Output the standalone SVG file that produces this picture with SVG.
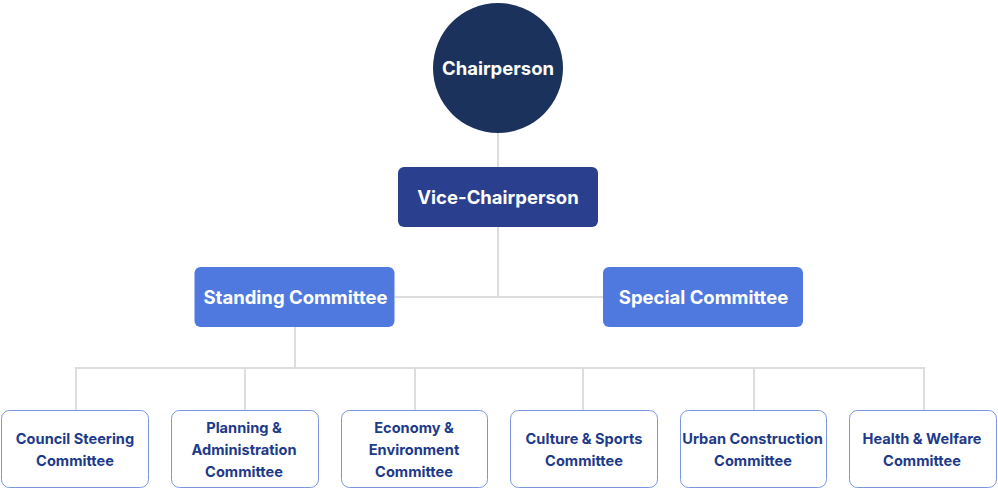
<svg xmlns="http://www.w3.org/2000/svg" width="998" height="488" viewBox="0 0 998 488">
<style>
.ln{stroke:#dddddd;stroke-width:2;fill:none}
.t{font-family:Inter,"Liberation Sans",sans-serif;font-weight:700;text-anchor:middle}
.w{fill:#ffffff;font-size:18.5px}
.leaf rect{fill:#ffffff;stroke:#7b96e0;stroke-width:1}
.leaf text{fill:#1e3a8a;font-size:14.6px}
</style>
<rect width="998" height="488" fill="#ffffff"/>
<g id="connectors">
<line class="ln" x1="498" y1="133" x2="498" y2="167"/>
<line class="ln" x1="498" y1="227" x2="498" y2="297"/>
<line class="ln" x1="395" y1="297" x2="603" y2="297"/>
<line class="ln" x1="295" y1="327" x2="295" y2="368"/>
<line class="ln" x1="75" y1="368" x2="924" y2="368"/>
<line class="ln" x1="76" y1="367" x2="76" y2="410"/>
<line class="ln" x1="245" y1="367" x2="245" y2="410"/>
<line class="ln" x1="415" y1="367" x2="415" y2="410"/>
<line class="ln" x1="583" y1="367" x2="583" y2="410"/>
<line class="ln" x1="754" y1="367" x2="754" y2="410"/>
<line class="ln" x1="924" y1="367" x2="924" y2="410"/>
</g>
<g id="chair">
<circle cx="498" cy="68" r="65" fill="#1b335c"/>
<text class="t w" x="498" y="75">Chairperson</text>
</g>
<g id="vice">
<rect x="398" y="167" width="200" height="60" rx="6" fill="#2b3f8f"/>
<text class="t w" x="498" y="204">Vice-Chairperson</text>
</g>
<g id="standing">
<rect x="194.5" y="267" width="200" height="60" rx="6" fill="#5079e0"/>
<text class="t w" x="295.5" y="304">Standing Committee</text>
</g>
<g id="special">
<rect x="603" y="267" width="200" height="60" rx="6" fill="#5079e0"/>
<text class="t w" x="703.5" y="304">Special Committee</text>
</g>
<g id="steering" class="leaf">
<rect x="1.5" y="410.5" width="147" height="77" rx="8"/>
<text class="t" x="75" y="444">Council Steering</text>
<text class="t" x="75" y="466">Committee</text>
</g>
<g id="planning" class="leaf">
<rect x="171.5" y="410.5" width="147" height="77" rx="8"/>
<text class="t" x="244" y="433">Planning &amp;</text>
<text class="t" x="244" y="455">Administration</text>
<text class="t" x="244" y="477">Committee</text>
</g>
<g id="economy" class="leaf">
<rect x="341.5" y="410.5" width="146" height="77" rx="8"/>
<text class="t" x="414" y="433">Economy &amp;</text>
<text class="t" x="414" y="455">Environment</text>
<text class="t" x="414" y="477">Committee</text>
</g>
<g id="culture" class="leaf">
<rect x="510.5" y="410.5" width="147" height="77" rx="8"/>
<text class="t" x="584" y="444">Culture &amp; Sports</text>
<text class="t" x="584" y="466">Committee</text>
</g>
<g id="urban" class="leaf">
<rect x="680.5" y="410.5" width="146" height="77" rx="8"/>
<text class="t" x="752.5" y="444">Urban Construction</text>
<text class="t" x="753" y="466">Committee</text>
</g>
<g id="health" class="leaf">
<rect x="849.5" y="410.5" width="147" height="77" rx="8"/>
<text class="t" x="922" y="444">Health &amp; Welfare</text>
<text class="t" x="922" y="466">Committee</text>
</g>
</svg>
